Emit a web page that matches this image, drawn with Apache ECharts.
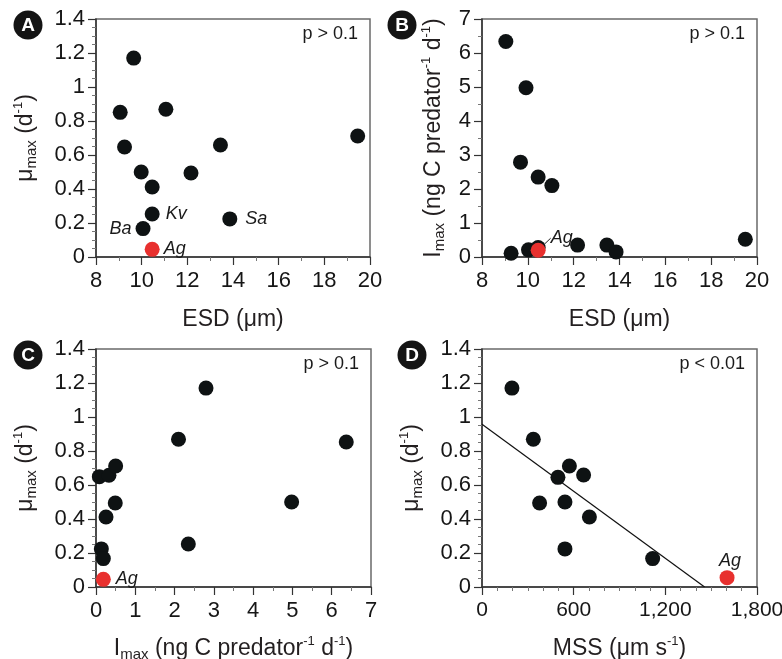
<!DOCTYPE html>
<html><head><meta charset="utf-8">
<script src="https://cdn.jsdelivr.net/npm/echarts@6/dist/echarts.min.js"></script>
<style>html,body{margin:0;padding:0;background:#fff}#c{width:782px;height:659px}</style>
</head><body><div id="c"></div>
<script>
// ---- Data ----
// Panel A: ESD vs mu_max
const esdA   = [9.65, 9.06, 11.06, 9.25, 19.46, 13.45, 9.98, 12.16, 10.46, 10.46, 13.86, 10.06];
const muA    = [1.17, 0.851, 0.869, 0.647, 0.712, 0.659, 0.50, 0.494, 0.412, 0.253, 0.224, 0.167];
const namesA = ['', '', '', '', '', '', '', '', '', 'Kv', 'Sa', 'Ba'];
const agA    = [10.46, 0.045];
// Panel B: ESD vs I_max
const esdB   = [9.04, 9.92, 9.68, 10.45, 11.05, 9.27, 10.03, 10.45, 12.17, 13.45, 13.85, 19.49];
const imaxB  = [6.34, 4.98, 2.79, 2.35, 2.10, 0.11, 0.21, 0.28, 0.35, 0.35, 0.15, 0.52];
const agB    = [10.45, 0.20];
// Panel C: I_max vs mu_max
const imaxC  = [0.085, 0.33, 0.50, 0.49, 0.255, 0.136, 0.187, 2.10, 2.80, 2.35, 4.98, 6.37];
const muC    = [0.649, 0.657, 0.712, 0.494, 0.412, 0.224, 0.167, 0.869, 1.17, 0.253, 0.50, 0.853];
const agC    = [0.187, 0.045];
// Panel D: MSS vs mu_max
const mssD   = [196, 336, 572, 497, 665, 377, 543, 703, 543, 1117];
const muD    = [1.17, 0.869, 0.712, 0.645, 0.659, 0.494, 0.50, 0.412, 0.224, 0.167];
const agD    = [1604, 0.055];
const fitX   = [0, 1457];
const fitY   = [0.957, 0];
// Text
const panelLetters = ['A', 'B', 'C', 'D'];
const pTexts = ['p > 0.1', 'p > 0.1', 'p > 0.1', 'p < 0.01'];

// ---- Styles ----
const FONT = 'Liberation Sans';
const TXT = '#231f20';
const BLACK = '#0e1213';
const RED = '#e8302e';
const richName = {
  m: {fontFamily: FONT, fontSize: 23, color: TXT, lineHeight: 27, verticalAlign: 'middle'},
  s: {fontFamily: FONT, fontSize: 15, color: TXT, lineHeight: 15, verticalAlign: 'bottom'},
  p: {fontFamily: FONT, fontSize: 13, color: TXT, lineHeight: 13, verticalAlign: 'top'}
};
const muName = '{m|μ}{s|max}{m| (d}{p|-1}{m|)}';
const imaxName = '{m|I}{s|max}{m| (ng C predator}{p|-1}{m| d}{p|-1}{m|)}';

const grids = [
  {left: 96, top: 19, width: 274, height: 238},
  {left: 482, top: 19, width: 275, height: 238},
  {left: 96, top: 349, width: 275, height: 238},
  {left: 482, top: 349, width: 275, height: 238}
].map(g => Object.assign({show: true, borderColor: '#6a6a6a', borderWidth: 1.5,
  backgroundColor: 'transparent', containLabel: false, outerBoundsMode: 'none'}, g));

function commas(v) { return String(v).replace(/\B(?=(\d{3})+(?!\d))/g, ','); }

function axis(type, gi, min, max, interval, minorSplit, name, gap, fmt, labelSize) {
  return {
    type: 'value', gridIndex: gi, min: min, max: max, interval: interval,
    position: type === 'x' ? 'bottom' : 'left',
    name: name, nameLocation: 'middle', nameGap: gap,
    nameRotate: type === 'y' ? 90 : 0,
    nameTextStyle: {fontFamily: FONT, fontSize: 23, color: TXT, rich: richName},
    axisLine: {show: true, onZero: false, lineStyle: {color: '#333', width: 1.5}},
    axisTick: {show: true, inside: false, length: 8, lineStyle: {color: '#333', width: 1.2}},
    minorTick: {show: true, splitNumber: minorSplit, length: 4, lineStyle: {color: '#777', width: 1}},
    splitLine: {show: false},
    minorSplitLine: {show: false},
    axisLabel: {fontFamily: FONT, fontSize: labelSize || 22, color: '#161616', margin: type === 'x' ? 13 : 11,
      formatter: fmt || (v => String(v))}
  };
}

const xAxes = [
  axis('x', 0, 8, 20, 2, 2, '{m|ESD (μm)}', 49),
  axis('x', 1, 8, 20, 2, 2, '{m|ESD (μm)}', 49),
  axis('x', 2, 0, 7, 1, 2, imaxName, 48),
  axis('x', 3, 0, 1800, 600, 6, '{m|MSS (μm s}{p|-1}{m|)}', 48, commas, 21)
];
const yAxes = [
  axis('y', 0, 0, 1.4, 0.2, 4, muName, 57),
  axis('y', 1, 0, 7, 1, 2, imaxName, 35),
  axis('y', 2, 0, 1.4, 0.2, 4, muName, 57),
  axis('y', 3, 0, 1.4, 0.2, 4, muName, 57)
];

const labelStyle = {fontFamily: FONT, fontSize: 18, fontStyle: 'italic', color: '#1a1a1a'};
const labelPos = {Kv: ['right', 6], Sa: ['right', 8], Ba: ['left', 4]};

function blackSeries(gi, xs, ys, names) {
  return {
    type: 'scatter', xAxisIndex: gi, yAxisIndex: gi, symbolSize: 15,
    itemStyle: {color: BLACK, opacity: 1},
    data: xs.map((x, i) => {
      const n = names ? names[i] : '';
      const d = {value: [x, ys[i]], name: n};
      if (n) d.label = Object.assign({show: true, formatter: n, position: labelPos[n][0], distance: labelPos[n][1]}, labelStyle);
      return d;
    }),
    z: 3
  };
}
function redSeries(gi, pt, label) {
  return {
    type: 'scatter', xAxisIndex: gi, yAxisIndex: gi, symbolSize: 15,
    itemStyle: {color: RED, opacity: 1},
    data: [{value: pt, name: 'Ag'}],
    label: Object.assign({show: true, formatter: 'Ag'}, label, labelStyle),
    z: 4
  };
}

const series = [
  blackSeries(0, esdA, muA, namesA),
  redSeries(0, agA, {position: 'right', distance: 4}),
  blackSeries(1, esdB, imaxB),
  Object.assign(redSeries(1, agB, {position: 'right', distance: 2}), {
    labelLayout: {dx: 3, dy: -12},
    labelLine: {show: true, length2: 0, lineStyle: {color: '#222', width: 1}}
  }),
  blackSeries(2, imaxC, muC),
  redSeries(2, agC, {position: 'right', distance: 5}),
  {
    type: 'line', xAxisIndex: 3, yAxisIndex: 3, showSymbol: false, symbol: 'none',
    lineStyle: {color: '#111', width: 1.2}, data: fitX.map((x, i) => [x, fitY[i]]), z: 2
  },
  blackSeries(3, mssD, muD),
  redSeries(3, agD, {position: 'top', distance: 0, offset: [3, 0]})
];

const titles = pTexts.map((t, i) => ({
  text: t, right: 782 - (grids[i].left + grids[i].width) + 7, top: grids[i].top + 1,
  textStyle: {fontFamily: FONT, fontSize: 18, fontWeight: 'normal', color: '#1a1a1a'}
}));

const circlePos = [[28, 25], [402, 25], [28, 355], [412, 355]];
const graphic = [];
circlePos.forEach((c, i) => {
  graphic.push({type: 'circle', shape: {cx: c[0], cy: c[1], r: 14.5}, style: {fill: '#141414'}, z: 10});
  graphic.push({type: 'text', x: c[0], y: c[1] + 1, style: {text: panelLetters[i], fill: '#fff',
    font: 'bold 19px ' + FONT, align: 'center', verticalAlign: 'middle'}, z: 11});
});

const chart = echarts.init(document.getElementById('c'), null, {renderer: 'canvas'});
chart.setOption({
  animation: false, backgroundColor: '#fff',
  grid: grids, xAxis: xAxes, yAxis: yAxes, series: series, title: titles, graphic: graphic
});
</script></body></html>
